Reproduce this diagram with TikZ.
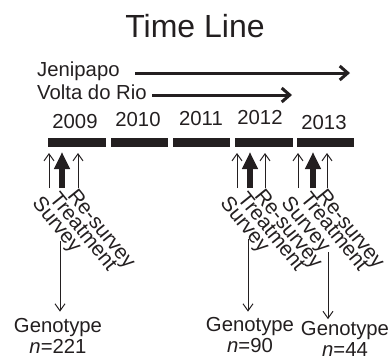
\documentclass[tikz,border=0pt]{standalone}
\usepackage{fontspec}
\setmainfont{Liberation Sans}
\usetikzlibrary{arrows.meta}
\definecolor{ink}{RGB}{35,31,32}
\begin{document}
\begin{tikzpicture}[x=1pt,y=-1pt,
  lbl/.style={inner sep=0pt, text=ink, font=\fontsize{20.3}{23}\selectfont},
  rlbl/.style={inner sep=0pt, text=ink, font=\fontsize{20.8}{23}\selectfont, rotate=-51, anchor=north west},
  bar/.style={fill=ink, draw=none, inner sep=0pt, minimum height=9pt},
  thinarr/.style={draw=ink, line width=1pt, -{Straight Barb[length=7pt,width=10pt]}},
  thickarr/.style={draw=ink, line width=6pt, -{Triangle[length=17pt,width=15pt]}},
  downarr/.style={draw=ink, line width=1pt, -{Straight Barb[length=7pt,width=10pt]}},
  periodarr/.style={draw=ink, line width=3pt, -{Straight Barb[length=8pt,width=14pt]}},
]
\useasboundingbox (0,0) rectangle (392,359);
% title
\node[lbl, anchor=base, font=\fontsize{32}{36}\selectfont] (title) at (195,37) {Time Line};
% sites
\node[lbl, anchor=base west] (jen) at (37,76) {Jenipapo};
\node[lbl, anchor=base west] (volta) at (37,99) {Volta do Rio};
\coordinate (jenA) at (135,73);
\coordinate (jenB) at (350,73);
\coordinate (voltaA) at (152,95);
\coordinate (voltaB) at (292,95);
\draw[periodarr] (jenA) -- (jenB);
\draw[periodarr] (voltaA) -- (voltaB);
% years
\node[lbl, anchor=base] (y2009) at (75,128.3) {2009};
\node[lbl, anchor=base] (y2010) at (138,126.7) {2010};
\node[lbl, anchor=base] (y2011) at (201,125) {2011};
\node[lbl, anchor=base] (y2012) at (260,124.5) {2012};
\node[lbl, anchor=base] (y2013) at (324,129) {2013};
% bars
\node[bar, minimum width=58pt] (b2009) at (77,142.5) {};
\node[bar, minimum width=57pt] (b2010) at (139.5,142.5) {};
\node[bar, minimum width=57pt] (b2011) at (201.5,142.5) {};
\node[bar, minimum width=58pt] (b2012) at (264,142.5) {};
\node[bar, minimum width=57pt] (b2013) at (325.5,142.5) {};
% event groups
\foreach \g/\l/\t/\r/\dx/\ds/\gx/\gy/\ntext/\gap in {%
  1/49/62/78/60/241/58/332/221/6,
  2/237/250/265/248/239/250/331/90/5,
  3/298/313/327/328/252/345/335/44/1.5} {
  \coordinate (sl\g) at (\l,188);
  \coordinate (el\g) at (\l,153);
  \coordinate (st\g) at (\t,188);
  \coordinate (et\g) at (\t,152);
  \coordinate (sr\g) at (\r,188);
  \coordinate (er\g) at (\r,153);
  \draw[thinarr] (sl\g) -- (el\g);
  \draw[thickarr] (st\g) -- (et\g);
  \draw[thinarr] (sr\g) -- (er\g);
  \node[rlbl] (surv\g) at (\l-6,194) {Survey};
  \node[rlbl] (treat\g) at (\t-2,190) {Treatment};
  \node[rlbl] (resurv\g) at (\r,187) {Re-survey};
  \node[lbl, anchor=base] (geno\g) at (\gx,\gy) {Genotype};
  \node[lbl, anchor=base] (n\g) at (\gx,\gy+21) {\textit{n}=\ntext};
  \coordinate (ds\g) at (\dx,\ds);
  \draw[downarr, shorten >=\gap pt] (ds\g) -- (ds\g |- geno\g.north);
}
\end{tikzpicture}
\end{document}
